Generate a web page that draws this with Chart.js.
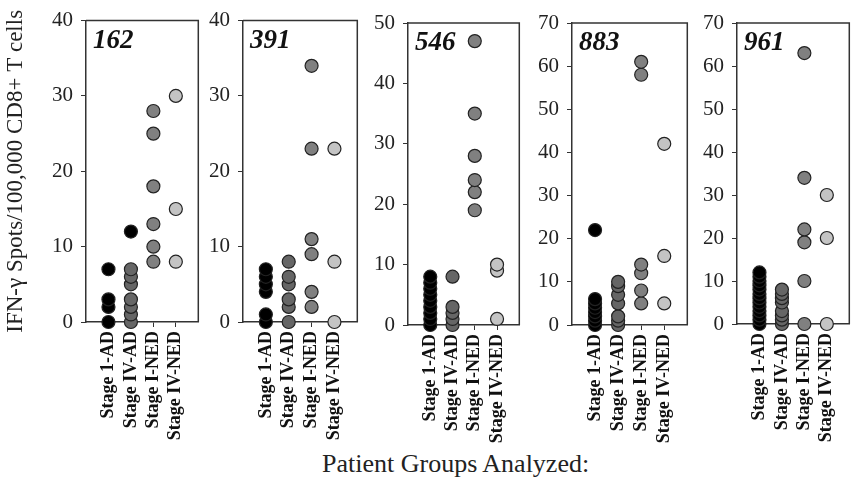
<!DOCTYPE html>
<html>
<head>
<meta charset="utf-8">
<script src="https://cdn.jsdelivr.net/npm/chart.js@4.4.1/dist/chart.umd.min.js"></script>
<style>
  body { margin: 0; background: #fff; width: 856px; height: 481px; overflow: hidden; position: relative; }
  .panel { position: absolute; top: 0; height: 481px; }
  #xtitle { position: absolute; left: 322px; top: 449px; font: 26px "Liberation Serif", serif; color: #222; white-space: nowrap; }
</style>
</head>
<body>
<div id="xtitle">Patient Groups Analyzed:</div>
<script>
// groups on the x axis
const groups = ["Stage 1-AD", "Stage IV-AD", "Stage I-NED", "Stage IV-NED"];
const peptides = ["162", "391", "546", "883", "961"];
const yMax = [40, 40, 50, 70, 70];

// spots per 100,000 CD8+ T cells
const p162_1AD  = [0, 2, 3, 7];
const p162_IVAD = [0, 1, 2, 3, 5, 6, 7];
const p162_IVADblack = [12];
const p162_INED = [8, 10, 13, 18, 25, 28];
const p162_IVNED = [8, 15, 30];

const p391_1AD  = [0, 1, 4, 5, 6, 7];
const p391_IVAD = [0, 2, 3, 5, 6, 8];
const p391_INED = [2, 4, 9, 11, 23, 34];
const p391_IVNED = [0, 8, 23];

const p546_1AD  = [0, 1, 2, 3, 4, 5, 6, 7, 8];
const p546_IVAD = [0, 1, 2, 3, 8];
const p546_INED = [19, 22, 24, 28, 35, 47];
const p546_IVNED = [1, 9, 10];

const p883_1AD  = [0, 1, 2, 3, 4, 5, 6, 22];
const p883_IVAD = [0, 1, 2, 5, 7, 9, 10];
const p883_INED = [5, 8, 12, 14, 58, 61];
const p883_IVNED = [5, 16, 42];

const p961_1AD  = [0, 1, 2, 3, 4, 5, 6, 7, 8, 9, 10, 11, 12];
const p961_IVAD = [0, 1, 2, 3, 5, 6, 7, 8];
const p961_INED = [0, 10, 19, 22, 34, 63];
const p961_IVNED = [0, 20, 30];

const panelData = [
  [p162_1AD, p162_IVAD, p162_INED, p162_IVNED],
  [p391_1AD, p391_IVAD, p391_INED, p391_IVNED],
  [p546_1AD, p546_IVAD, p546_INED, p546_IVNED],
  [p883_1AD, p883_IVAD, p883_INED, p883_IVNED],
  [p961_1AD, p961_IVAD, p961_INED, p961_IVNED]
];

const fills = ["#000000", "#666666", "#808080", "#c4c4c4"];

// plot box of each panel in page pixels
const boxes = [
  { left: 86,  right: 204, top: 20, bottom: 322 },
  { left: 243, right: 363, top: 20, bottom: 322 },
  { left: 408, right: 525, top: 23, bottom: 325 },
  { left: 572, right: 693, top: 23, bottom: 325 },
  { left: 737, right: 855, top: 23, bottom: 324 }
];

const serif = '"Liberation Serif", "Times New Roman", serif';

const frameAndLabel = {
  id: 'frameAndLabel',
  beforeDatasetsDraw(chart, args, opts) {
    const { ctx, chartArea: a } = chart;
    ctx.save();
    ctx.strokeStyle = '#333';
    ctx.lineWidth = 1.5;
    ctx.beginPath();
    ctx.moveTo(a.left, a.top);
    ctx.lineTo(a.right, a.top);
    ctx.lineTo(a.right, a.bottom);
    ctx.stroke();
    ctx.fillStyle = '#111';
    ctx.font = 'italic bold 27px ' + serif;
    ctx.textBaseline = 'alphabetic';
    ctx.fillText(opts.text, a.left + 7, a.top + 27);
    ctx.restore();
  }
};

function makePoints(vals, x) {
  return vals.map(v => ({ x: x, y: v }));
}

boxes.forEach((b, i) => {
  const yw = i === 0 ? b.left : 50;
  const left = b.left - yw;
  const width = b.right - b.left + yw + 2;

  const div = document.createElement('div');
  div.className = 'panel';
  div.style.left = left + 'px';
  div.style.width = width + 'px';
  const canvas = document.createElement('canvas');
  div.appendChild(canvas);
  document.body.appendChild(div);

  const datasets = panelData[i].map((vals, g) => ({
    label: groups[g],
    data: makePoints(vals, g + 1),
    backgroundColor: fills[g],
    borderColor: '#222',
    borderWidth: 1.2,
    pointRadius: 6.5,
    pointHoverRadius: 6.5,
    clip: false
  }));
  if (i === 0) {
    datasets.push({
      label: groups[1],
      data: makePoints(p162_IVADblack, 2),
      backgroundColor: '#000',
      borderColor: '#222',
      borderWidth: 1.2,
      pointRadius: 6.5,
      clip: false
    });
  }

  new Chart(canvas, {
    type: 'scatter',
    data: { datasets },
    plugins: [frameAndLabel],
    options: {
      responsive: true,
      maintainAspectRatio: false,
      animation: false,
      layout: { padding: { top: b.top, right: 2, left: 0, bottom: 0 } },
      plugins: {
        legend: { display: false },
        tooltip: { enabled: false },
        frameAndLabel: { text: peptides[i] }
      },
      scales: {
        x: {
          type: 'linear',
          min: 0,
          max: 5,
          afterBuildTicks: s => { s.ticks = groups.map((g, k) => ({ value: k + 1 })); },
          afterFit: s => { s.height = 481 - b.bottom; },
          border: { color: '#333', width: 1.5 },
          grid: { drawOnChartArea: false, drawTicks: true, tickLength: 5, color: '#333' },
          ticks: {
            autoSkip: false,
            minRotation: 90,
            maxRotation: 90,
            padding: 4,
            color: '#111',
            font: { family: serif, size: 18, weight: 'bold' },
            callback: v => groups[v - 1]
          }
        },
        y: {
          min: 0,
          max: yMax[i],
          afterFit: s => { s.width = yw; },
          border: { color: '#333', width: 1.5 },
          grid: { drawOnChartArea: false, drawTicks: true, tickLength: 5, color: '#333' },
          ticks: {
            stepSize: 10,
            padding: 8,
            color: '#222',
            font: { family: serif, size: 21 }
          },
          title: {
            display: i === 0,
            text: 'IFN-γ Spots/100,000 CD8+ T cells',
            color: '#222',
            padding: { top: 2, bottom: 4 },
            font: { family: serif, size: 23 }
          }
        }
      }
    }
  });
});
</script>
</body>
</html>
